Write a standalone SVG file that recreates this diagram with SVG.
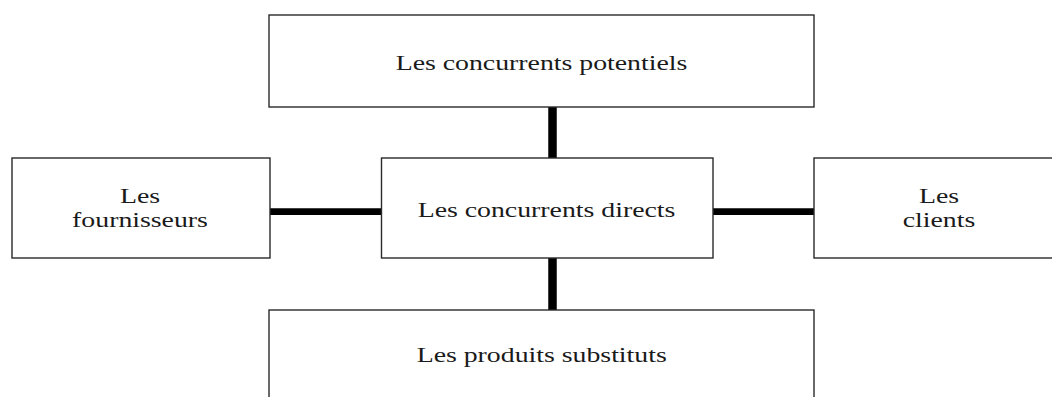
<svg xmlns="http://www.w3.org/2000/svg" width="1052" height="397" viewBox="0 0 1052 397">
  <style>
    .box { fill: #ffffff; stroke: #2a2a2a; stroke-width: 1.4; }
    .lbl { font-family: "Liberation Serif", "Times New Roman", serif; font-size: 20px; fill: #1a1a1a; text-anchor: middle; }
    .link { stroke: #000000; fill: none; }
  </style>
  <rect width="1052" height="397" fill="#ffffff"/>

  <!-- thick connectors between the central box and its neighbours -->
  <g id="connectors">
    <line class="link" x1="552.5" y1="107" x2="552.5" y2="158" stroke-width="8.5"/>
    <line class="link" x1="552.5" y1="258" x2="552.5" y2="310" stroke-width="8.5"/>
    <line class="link" x1="270" y1="211.7" x2="381" y2="211.7" stroke-width="6.8"/>
    <line class="link" x1="713" y1="211.7" x2="814" y2="211.7" stroke-width="6.8"/>
  </g>

  <g id="potentiels">
    <rect class="box" x="269" y="15" width="545" height="92"/>
    <text class="lbl" transform="translate(541.5,70) scale(1.39,1)">Les concurrents potentiels</text>
  </g>

  <g id="fournisseurs">
    <rect class="box" x="12" y="158" width="258" height="100"/>
    <text class="lbl" transform="translate(140,203.3) scale(1.39,1)">Les</text>
    <text class="lbl" transform="translate(140,227.3) scale(1.39,1)">fournisseurs</text>
  </g>

  <g id="directs">
    <rect class="box" x="381.5" y="158" width="331.5" height="100"/>
    <text class="lbl" transform="translate(546.5,216.5) scale(1.39,1)">Les concurrents directs</text>
  </g>

  <g id="clients">
    <rect class="box" x="814" y="158" width="250" height="100"/>
    <text class="lbl" transform="translate(939,203.3) scale(1.39,1)">Les</text>
    <text class="lbl" transform="translate(939,227.3) scale(1.39,1)">clients</text>
  </g>

  <g id="substituts">
    <rect class="box" x="269" y="310" width="545" height="100"/>
    <text class="lbl" transform="translate(541.7,362) scale(1.39,1)">Les produits substituts</text>
  </g>
</svg>
